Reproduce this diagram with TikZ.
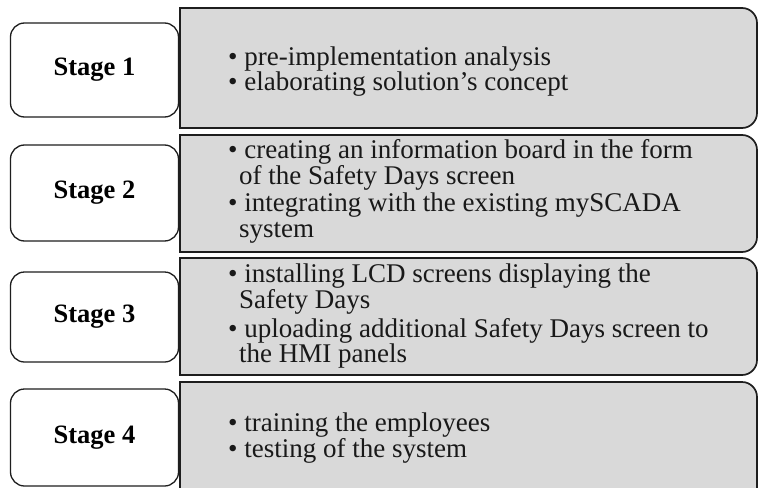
\documentclass[tikz,border=0pt]{standalone}
\usepackage{fontspec}
\setmainfont{Liberation Serif}
\definecolor{boxgrey}{RGB}{217,217,217}
\definecolor{edge}{RGB}{30,30,30}
\tikzset{
  stagebox/.style={draw=edge, line width=1.3pt, rounded corners=14pt, fill=white,
    minimum width=168pt, inner sep=0pt, font=\fontsize{26.5}{26}\selectfont\bfseries},
  greybox/.style={draw=edge, line width=1.7pt, fill=boxgrey},
  item/.style={anchor=base west, inner sep=0pt, text height=14pt, text depth=4pt,
    font=\fontsize{27}{26}\selectfont, text=black!90}
}
\begin{document}
\begin{tikzpicture}[x=1pt,y=-1pt]
\clip (0,0) rectangle (759,487);
\fill[white] (0,0) rectangle (759,487);
% grey boxes: square left corners, rounded right corners
\foreach \t/\b in {8/128, 135/252, 258/375, 382/520}{
  \draw[greybox] (180,{(\t+\b)/2}) -- (180,\t) -- (700,\t) [rounded corners=15pt] -- (757,\t) -- (757,\b) -- (700,\b) [sharp corners] -- (180,\b) -- cycle;
}
% stage boxes
\node[stagebox, minimum height=94pt] (s1) at (94.5,70) {Stage 1};
\node[stagebox, minimum height=96pt] (s2) at (94.5,193) {Stage 2};
\node[stagebox, minimum height=90pt] (s3) at (94.5,317) {Stage 3};
\node[stagebox, minimum height=97pt] (s4) at (94.5,437.5) {Stage 4};
% box 1
\node[item] (a1) at (228,65) {• pre-implementation analysis};
\node[item] (a2) at (228,90) {• elaborating solution’s concept};
% box 2
\node[item] (b1) at (228,158) {• creating an information board in the form};
\node[item] (b2) at (239,184) {of the Safety Days screen};
\node[item] (b3) at (228,211) {• integrating with the existing mySCADA};
\node[item] (b4) at (239,237) {system};
% box 3
\node[item] (c1) at (228,282) {• installing LCD screens displaying the};
\node[item] (c2) at (239,308) {Safety Days};
\node[item] (c3) at (228,337) {• uploading additional Safety Days screen to};
\node[item] (c4) at (239,362) {the HMI panels};
% box 4
\node[item] (d1) at (228,431) {• training the employees};
\node[item] (d2) at (228,457) {• testing of the system};
\end{tikzpicture}
\end{document}
